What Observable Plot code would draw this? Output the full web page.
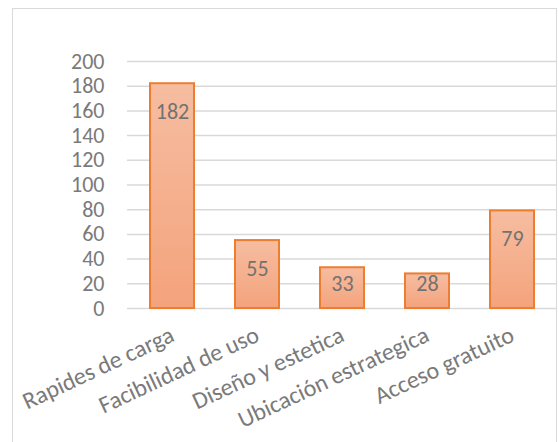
<!DOCTYPE html>
<html><head><meta charset="utf-8">
<script src="https://cdn.jsdelivr.net/npm/d3@7"></script>
<script src="https://cdn.jsdelivr.net/npm/@observablehq/plot@0.6"></script>
<style>
body{margin:0;background:#fff;}
#wrap{position:relative;width:558px;height:442px;overflow:hidden;}
#frame{position:absolute;left:12px;top:8px;width:545px;height:460px;border:1.5px solid #d9d9d9;box-sizing:border-box;}
#chart{position:absolute;left:0;top:0;}
</style></head><body><div id="wrap"><div id="frame"></div><div id="chart"></div></div>
<script>
const categories = ["Rapides de carga", "Facibilidad de uso", "Diseño y estetica", "Ubicación estrategica", "Acceso gratuito"];
const values = [182, 55, 33, 28, 79];
const yTicks = [0, 20, 40, 60, 80, 100, 120, 140, 160, 180, 200];
const data = categories.map((c, i) => ({category: c, value: values[i]}));

const plot = Plot.plot({
  width: 558, height: 442,
  marginLeft: 127, marginRight: 2, marginTop: 61, marginBottom: 134,
  style: {fontFamily: "Carlito, Lato, sans-serif", fontSize: "22px", color: "#7a7a7a", background: "transparent"},
  x: {domain: categories, paddingInner: 0.487, paddingOuter: 0.2435, label: null},
  y: {domain: [0, 200], label: null},
  marks: [
    Plot.gridY(yTicks, {stroke: "#d9d9d9", strokeOpacity: 1, strokeWidth: 1.5}),
    Plot.barY(data, {x: "category", y: "value", fill: "url(#barGrad)", stroke: "#ed7d31", strokeWidth: 2}),
    Plot.text(data, {x: "category", y: d => Math.max(d.value - 23, 19.5), text: d => String(d.value), fill: "#727272", fontSize: 22}),
    Plot.axisY(yTicks, {tickSize: 0, tickPadding: 23, fontSize: 22, fill: "#7a7a7a", label: null}),
    Plot.axisX({tickSize: 0, tickRotate: -25, tickPadding: 25, fontSize: 24, fill: "#7a7a7a", label: null})
  ]
});

const ns = "http://www.w3.org/2000/svg";
const defs = document.createElementNS(ns, "defs");
const grad = document.createElementNS(ns, "linearGradient");
grad.setAttribute("id", "barGrad");
grad.setAttribute("x1", "0"); grad.setAttribute("y1", "0");
grad.setAttribute("x2", "0"); grad.setAttribute("y2", "1");
[["0", "#f6bda1"], ["1", "#f4a37c"]].forEach(([o, c]) => {
  const s = document.createElementNS(ns, "stop");
  s.setAttribute("offset", o); s.setAttribute("stop-color", c);
  grad.appendChild(s);
});
defs.appendChild(grad);
plot.insertBefore(defs, plot.firstChild);
document.getElementById("chart").appendChild(plot);
</script></body></html>
